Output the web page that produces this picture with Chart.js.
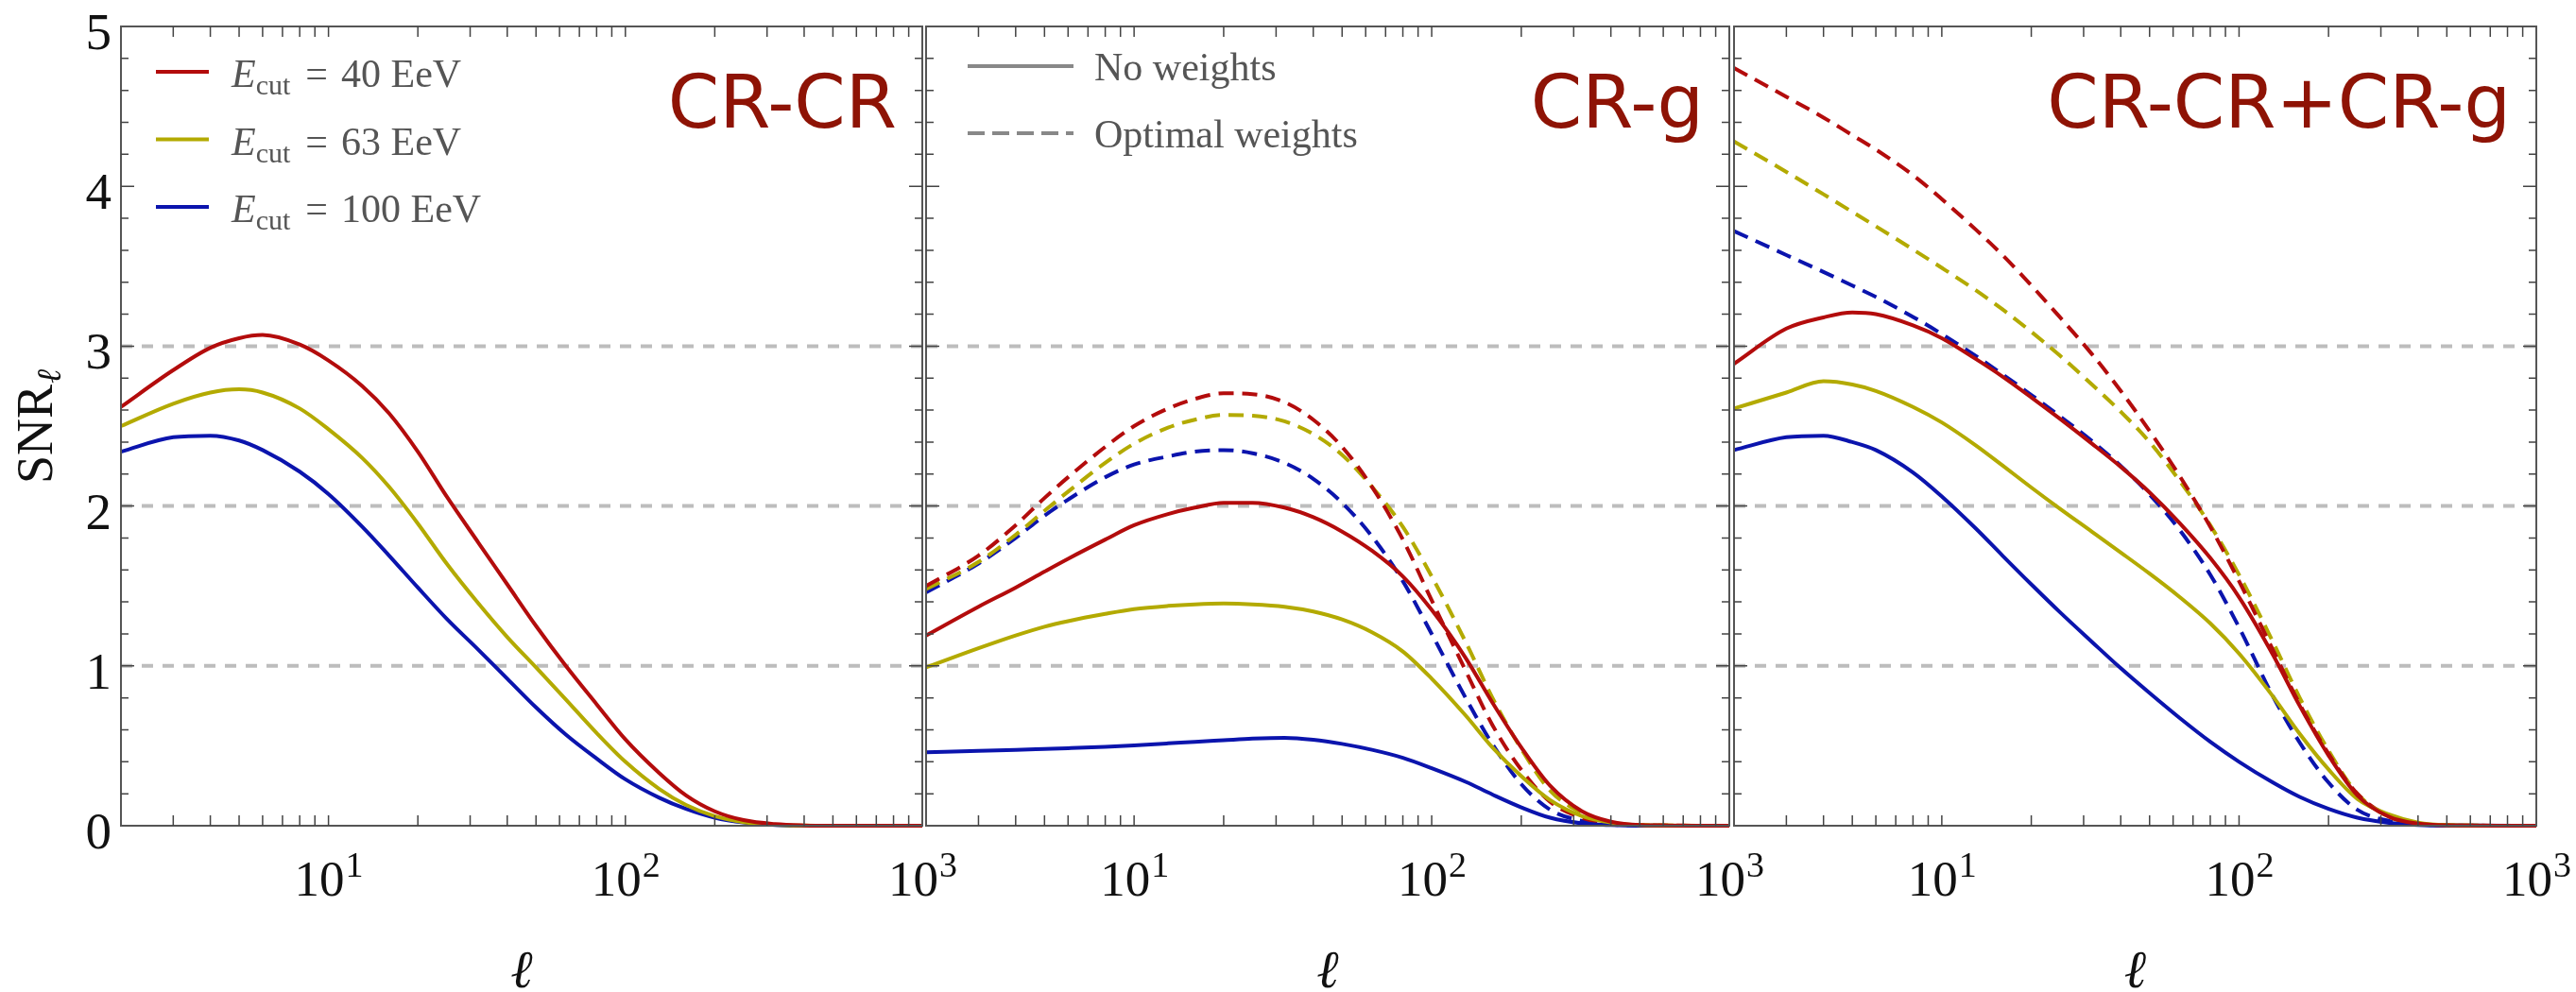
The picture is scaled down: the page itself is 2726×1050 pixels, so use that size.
<!DOCTYPE html>
<html>
<head>
<meta charset="utf-8">
<script src="https://cdn.jsdelivr.net/npm/chart.js@4.4.0/dist/chart.umd.min.js"></script>
<style>
    body { margin: 0; background: #fff; }
    #wrap { position: relative; width: 2726px; height: 1050px; }
    canvas { position: absolute; left: 0; top: 0; }
</style>
</head>
<body>
<div id="wrap">
    <canvas id="crcr" width="2726" height="1050"></canvas>
    <canvas id="crg" width="2726" height="1050"></canvas>
    <canvas id="both" width="2726" height="1050"></canvas>
</div>
<script>
// multipole values shared by every curve
const ell = [2, 3, 4, 5, 6, 8, 10, 13, 16, 20, 25, 32, 40, 50, 63, 80, 100, 130, 160, 200, 250, 320, 400, 500, 1000];

// CR-CR
const crcr40  = [2.62, 2.85, 2.99, 3.05, 3.07, 3.01, 2.91, 2.75, 2.58, 2.34, 2.06, 1.77, 1.51, 1.25, 1.00, 0.76, 0.54, 0.33, 0.19, 0.09, 0.035, 0.01, 0.002, 0, 0];
const crcr63  = [2.50, 2.64, 2.71, 2.73, 2.71, 2.61, 2.48, 2.30, 2.12, 1.89, 1.64, 1.39, 1.18, 0.99, 0.79, 0.58, 0.40, 0.23, 0.13, 0.06, 0.022, 0.006, 0.001, 0, 0];
const crcr100 = [2.34, 2.43, 2.44, 2.41, 2.35, 2.215, 2.075, 1.87, 1.69, 1.49, 1.295, 1.10, 0.92, 0.74, 0.57, 0.42, 0.29, 0.175, 0.105, 0.05, 0.02, 0.005, 0, 0, 0];

// CR-g, no weights / optimal weights
const crg40  = [1.19, 1.37, 1.49, 1.59, 1.67, 1.79, 1.88, 1.95, 1.99, 2.02, 2.02, 1.99, 1.93, 1.84, 1.72, 1.56, 1.35, 1.05, 0.77, 0.49, 0.25, 0.09, 0.025, 0.005, 0];
const crg63  = [0.99, 1.11, 1.19, 1.245, 1.28, 1.325, 1.355, 1.375, 1.385, 1.39, 1.385, 1.37, 1.34, 1.29, 1.21, 1.09, 0.92, 0.69, 0.49, 0.31, 0.16, 0.06, 0.02, 0.005, 0];
const crg100 = [0.46, 0.468, 0.474, 0.48, 0.485, 0.494, 0.503, 0.515, 0.525, 0.535, 0.545, 0.55, 0.538, 0.512, 0.475, 0.425, 0.36, 0.275, 0.195, 0.115, 0.05, 0.015, 0.004, 0, 0];
const crg40opt  = [1.50, 1.69, 1.88, 2.05, 2.18, 2.37, 2.50, 2.61, 2.67, 2.705, 2.70, 2.65, 2.54, 2.37, 2.12, 1.79, 1.41, 0.97, 0.63, 0.35, 0.15, 0.05, 0.015, 0.004, 0];
const crg63opt  = [1.48, 1.65, 1.82, 1.97, 2.09, 2.27, 2.39, 2.49, 2.54, 2.57, 2.565, 2.53, 2.45, 2.32, 2.12, 1.87, 1.56, 1.15, 0.80, 0.48, 0.22, 0.08, 0.02, 0.005, 0];
const crg100opt = [1.46, 1.64, 1.80, 1.94, 2.04, 2.18, 2.26, 2.31, 2.34, 2.35, 2.33, 2.27, 2.17, 2.02, 1.81, 1.53, 1.20, 0.80, 0.51, 0.26, 0.10, 0.03, 0.008, 0.002, 0];

// CR-CR+CR-g
const sum40  = [2.89, 3.11, 3.18, 3.21, 3.20, 3.13, 3.05, 2.92, 2.81, 2.68, 2.545, 2.39, 2.245, 2.085, 1.895, 1.675, 1.43, 1.07, 0.75, 0.44, 0.19, 0.055, 0.013, 0.003, 0];
const sum63  = [2.61, 2.71, 2.78, 2.76, 2.72, 2.62, 2.523, 2.38, 2.254, 2.116, 1.982, 1.839, 1.709, 1.577, 1.432, 1.266, 1.077, 0.809, 0.575, 0.352, 0.168, 0.07, 0.02, 0.005, 0];
const sum100 = [2.35, 2.43, 2.44, 2.40, 2.35, 2.21, 2.06, 1.86, 1.69, 1.51, 1.335, 1.15, 0.985, 0.83, 0.675, 0.525, 0.40, 0.27, 0.18, 0.105, 0.05, 0.018, 0.005, 0.001, 0];
const sum40opt  = [4.74, 4.56, 4.43, 4.32, 4.23, 4.07, 3.92, 3.73, 3.57, 3.38, 3.18, 2.95, 2.72, 2.47, 2.19, 1.87, 1.53, 1.10, 0.76, 0.45, 0.20, 0.06, 0.012, 0.003, 0];
const sum63opt  = [4.28, 4.09, 3.95, 3.84, 3.75, 3.605, 3.49, 3.35, 3.23, 3.09, 2.94, 2.76, 2.59, 2.40, 2.16, 1.88, 1.57, 1.15, 0.80, 0.47, 0.20, 0.055, 0.012, 0.003, 0];
const sum100opt = [3.72, 3.57, 3.464, 3.379, 3.308, 3.183, 3.076, 2.939, 2.824, 2.695, 2.561, 2.406, 2.251, 2.072, 1.852, 1.571, 1.241, 0.81, 0.52, 0.27, 0.10, 0.03, 0.008, 0.002, 0];

const refLevels = [1, 2, 3];
const yTickLabels = [0, 1, 2, 3, 4, 5];
const xTickLabels = [[10, '1'], [100, '2'], [1000, '3']];
const energies = ['40', '63', '100'];
const weightLabels = ['No weights', 'Optimal weights'];

const colors = ['#b30c0c', '#b3aa00', '#0b14ad'];
const titleColor = '#8e1305';
const serif = '"Liberation Serif", "DejaVu Serif", serif';

function curve(vals, color, dashed) {
    return {
        data: vals.map((v, i) => ({ x: ell[i], y: v })),
        borderColor: color,
        borderWidth: 4,
        borderDash: dashed ? [16, 9] : [],
        pointRadius: 0,
        cubicInterpolationMode: 'monotone',
        clip: false,
        order: dashed ? 2 : 1
    };
}

function refLine(v) {
    return {
        data: [{ x: 2, y: v }, { x: 1000, y: v }],
        borderColor: '#bdbdbd',
        borderWidth: 4,
        borderDash: [12, 10],
        pointRadius: 0,
        order: 10
    };
}

// frame, inside ticks, labels, legends and panel names
const panelPlugin = {
    id: 'panel',
    afterDraw(chart, args, o) {
        const { ctx, chartArea: a, scales: { x, y } } = chart;
        ctx.save();

        ctx.strokeStyle = '#555';
        ctx.lineWidth = 2;
        ctx.strokeRect(a.left, a.top, a.right - a.left, a.bottom - a.top);

        ctx.strokeStyle = '#444';
        ctx.lineWidth = 1.5;
        ctx.beginPath();
        for (let d = 1; d <= 100; d *= 10) {
            for (let m = 1; m <= 9; m++) {
                const v = m * d;
                if (v <= 2) continue;
                const px = x.getPixelForValue(v);
                ctx.moveTo(px, a.bottom); ctx.lineTo(px, a.bottom - 11);
                ctx.moveTo(px, a.top); ctx.lineTo(px, a.top + 11);
            }
        }
        for (let i = 1; i < 25; i++) {
            const py = y.getPixelForValue(i * 0.2);
            const len = i % 5 === 0 ? 14 : 8;
            ctx.moveTo(a.left, py); ctx.lineTo(a.left + len, py);
            ctx.moveTo(a.right, py); ctx.lineTo(a.right - len, py);
        }
        ctx.stroke();

        ctx.fillStyle = '#111';
        ctx.textBaseline = 'alphabetic';
        if (o.yLabels) {
            ctx.font = '55px ' + serif;
            ctx.textAlign = 'right';
            yTickLabels.forEach(v => ctx.fillText(String(v), a.left - 10, y.getPixelForValue(v) + 24));

            ctx.save();
            ctx.translate(55, 452);
            ctx.rotate(-Math.PI / 2);
            ctx.textAlign = 'left';
            ctx.font = '54px ' + serif;
            const w1 = ctx.measureText('SNR').width;
            ctx.font = 'italic 36px ' + serif;
            const w2 = ctx.measureText('ℓ').width;
            ctx.font = '54px ' + serif;
            ctx.fillText('SNR', -(w1 + w2) / 2, 0);
            ctx.font = 'italic 36px ' + serif;
            ctx.fillText('ℓ', -(w1 + w2) / 2 + w1 + 1, 9);
            ctx.restore();
        }

        ctx.textAlign = 'left';
        xTickLabels.forEach(([v, e]) => {
            ctx.font = '53px ' + serif;
            const w1 = ctx.measureText('10').width;
            ctx.font = '38px ' + serif;
            const w2 = ctx.measureText(e).width;
            const x0 = x.getPixelForValue(v) - (w1 + w2) / 2;
            ctx.font = '53px ' + serif;
            ctx.fillText('10', x0, 948);
            ctx.font = '38px ' + serif;
            ctx.fillText(e, x0 + w1 + 1, 928);
        });

        ctx.textAlign = 'center';
        ctx.font = 'italic 56px ' + serif;
        ctx.fillText('ℓ', (a.left + a.right) / 2, 1045);

        // legends
        ctx.textAlign = 'left';
        ctx.fillStyle = '#555';
        if (o.legend === 'energy') {
            energies.forEach((e, i) => {
                const ry = 76 + i * 71.5;
                ctx.strokeStyle = colors[i];
                ctx.lineWidth = 4;
                ctx.setLineDash([]);
                ctx.beginPath(); ctx.moveTo(165, ry); ctx.lineTo(221, ry); ctx.stroke();
                let tx = 245;
                ctx.font = 'italic 42px ' + serif;
                ctx.fillText('E', tx, ry + 16);
                tx += ctx.measureText('E').width;
                ctx.font = '30px ' + serif;
                ctx.fillText('cut', tx, ry + 24);
                tx += ctx.measureText('cut').width + 16;
                ctx.font = '42px ' + serif;
                ctx.fillText('=', tx, ry + 16);
                tx += ctx.measureText('=').width + 14;
                ctx.fillText(e + ' EeV', tx, ry + 16);
            });
        }
        if (o.legend === 'weights') {
            weightLabels.forEach((t, i) => {
                const ry = 70 + i * 71;
                ctx.strokeStyle = '#888';
                ctx.lineWidth = 4;
                ctx.setLineDash(i === 0 ? [] : [18, 8]);
                ctx.beginPath(); ctx.moveTo(1024, ry); ctx.lineTo(1136, ry); ctx.stroke();
                ctx.font = '42px ' + serif;
                ctx.fillText(t, 1158, ry + 15);
            });
            ctx.setLineDash([]);
        }

        ctx.textAlign = 'right';
        ctx.fillStyle = titleColor;
        ctx.font = '78px "DejaVu Sans", sans-serif';
        ctx.fillText(o.title, a.right - 27, 135);
        ctx.restore();
    }
};

function makePanel(id, left, right, series, opts) {
    const datasets = refLevels.map(refLine);
    series.forEach(s => datasets.push(curve(s.vals, s.color, s.dashed)));
    return new Chart(document.getElementById(id).getContext('2d'), {
        type: 'line',
        data: { datasets: datasets },
        plugins: [panelPlugin],
        options: {
            responsive: false,
            animation: false,
            layout: { padding: { left: left, right: 2726 - right, top: 28, bottom: 1050 - 874 } },
            plugins: {
                legend: { display: false },
                tooltip: { enabled: false },
                panel: opts
            },
            scales: {
                x: {
                    type: 'logarithmic', min: 2, max: 1000,
                    ticks: { display: false }, grid: { display: false }, border: { display: false },
                    afterFit: s => { s.height = 0; }
                },
                y: {
                    min: 0, max: 5,
                    ticks: { display: false }, grid: { display: false }, border: { display: false },
                    afterFit: s => { s.width = 0; }
                }
            }
        }
    });
}

makePanel('crcr', 128, 976, [
    { vals: crcr40, color: colors[0] },
    { vals: crcr63, color: colors[1] },
    { vals: crcr100, color: colors[2] }
], { title: 'CR-CR', yLabels: true, legend: 'energy' });

makePanel('crg', 980, 1830, [
    { vals: crg40opt, color: colors[0], dashed: true },
    { vals: crg63opt, color: colors[1], dashed: true },
    { vals: crg100opt, color: colors[2], dashed: true },
    { vals: crg40, color: colors[0] },
    { vals: crg63, color: colors[1] },
    { vals: crg100, color: colors[2] }
], { title: 'CR-g', yLabels: false, legend: 'weights' });

makePanel('both', 1835, 2684, [
    { vals: sum40opt, color: colors[0], dashed: true },
    { vals: sum63opt, color: colors[1], dashed: true },
    { vals: sum100opt, color: colors[2], dashed: true },
    { vals: sum40, color: colors[0] },
    { vals: sum63, color: colors[1] },
    { vals: sum100, color: colors[2] }
], { title: 'CR-CR+CR-g', yLabels: false, legend: null });
</script>
</body>
</html>
